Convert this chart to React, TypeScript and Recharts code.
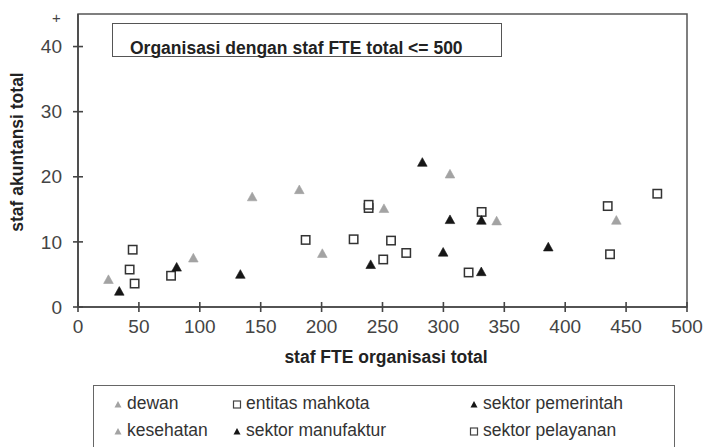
import { ReferenceArea, Scatter, ScatterChart, XAxis, YAxis } from "recharts";

const FONT = '"Liberation Sans", Arial, sans-serif';

const xTicks = [0, 50, 100, 150, 200, 250, 300, 350, 400, 450, 500];
const yTicks = [0, 10, 20, 30, 40];

// gray triangles
const dewan = [
  { x: 25, y: 4.2 },
  { x: 143, y: 16.9 },
  { x: 200.6, y: 8.2 },
  { x: 305.4, y: 20.4 },
  { x: 442, y: 13.3 },
];
const kesehatan = [
  { x: 94.7, y: 7.5 },
  { x: 181.7, y: 18 },
  { x: 251.2, y: 15.1 },
  { x: 343.7, y: 13.2 },
];

// open squares
const entitasMahkota = [
  { x: 44.9, y: 8.8 },
  { x: 46.5, y: 3.6 },
  { x: 186.9, y: 10.3 },
  { x: 238.6, y: 15.2 },
  { x: 250.6, y: 7.3 },
  { x: 269.5, y: 8.3 },
  { x: 331.4, y: 14.6 },
  { x: 436.8, y: 8.1 },
];
const sektorPelayanan = [
  { x: 42.4, y: 5.75 },
  { x: 76.4, y: 4.8 },
  { x: 226.3, y: 10.4 },
  { x: 238.6, y: 15.7 },
  { x: 257, y: 10.2 },
  { x: 320.7, y: 5.3 },
  { x: 434.9, y: 15.5 },
  { x: 475.6, y: 17.4 },
];

// black triangles
const sektorPemerintah = [
  { x: 33.9, y: 2.4 },
  { x: 133.3, y: 5.0 },
  { x: 282.7, y: 22.2 },
  { x: 305.4, y: 13.4 },
  { x: 331.1, y: 5.4 },
];
const sektorManufaktur = [
  { x: 81, y: 6.1 },
  { x: 240.3, y: 6.5 },
  { x: 299.8, y: 8.4 },
  { x: 331.2, y: 13.3 },
  { x: 386.1, y: 9.2 },
];

const GRAY = "#a3a3a3";
const BLACK = "#161616";
const AXIS = "#444";

function Tri({ cx, cy, fill, r = 4.8 }: any) {
  return (
    <polygon
      points={`${cx},${cy - r} ${cx + r},${cy + r * 0.8} ${cx - r},${cy + r * 0.8}`}
      fill={fill}
      stroke={fill}
      strokeWidth={0.6}
    />
  );
}

function Sq({ cx, cy, s = 4.2 }: any) {
  return <rect x={cx - s} y={cy - s} width={s * 2} height={s * 2} fill="#fff" stroke="#333" strokeWidth={1.5} />;
}

const grayShape = (p: any) => <Tri cx={p.cx} cy={p.cy} fill={GRAY} />;
const blackShape = (p: any) => <Tri cx={p.cx} cy={p.cy} fill={BLACK} />;
const squareShape = (p: any) => <Sq cx={p.cx} cy={p.cy} />;

// tickSize 0 + tickMargin => axis sits at a known offset from the label anchor,
// so each tick draws a short cross mark through the axis plus its label
function XTick(props: any) {
  const { x, y, payload } = props;
  const axisY = y - 19;
  return (
    <g>
      <line x1={x} y1={axisY - 5} x2={x} y2={axisY + 5} stroke={AXIS} strokeWidth={1.6} />
      <text x={x} y={y} dy="0.35em" textAnchor="middle" fontSize={19} fill="#444" fontFamily={FONT}>
        {payload.value}
      </text>
    </g>
  );
}

function YTick(props: any) {
  const { x, y, payload } = props;
  const axisX = x + 16;
  return (
    <g>
      <line x1={axisX - 5} y1={y} x2={axisX + 5} y2={y} stroke={AXIS} strokeWidth={1.6} />
      <text x={x} y={y} dy="0.35em" textAnchor="end" fontSize={19} fill="#444" fontFamily={FONT}>
        {payload.value}
      </text>
    </g>
  );
}

function LegendMark({ kind }: { kind: "gray" | "black" | "square" }) {
  return (
    <svg width={10} height={10} style={{ position: "absolute", left: -14, top: 7 }}>
      {kind === "square" ? (
        <rect x={1.5} y={2} width={7} height={7} fill="#fff" stroke="#444" strokeWidth={1.2} />
      ) : (
        <polygon points="5,2 8.5,8.5 1.5,8.5" fill={kind === "gray" ? GRAY : BLACK} />
      )}
    </svg>
  );
}

const legendItems: { label: string; kind: "gray" | "black" | "square"; left: number; top: number }[] = [
  { label: "dewan", kind: "gray", left: 127, top: 392 },
  { label: "entitas mahkota", kind: "square", left: 246, top: 392 },
  { label: "sektor pemerintah", kind: "black", left: 483, top: 392 },
  { label: "kesehatan", kind: "gray", left: 127, top: 419 },
  { label: "sektor manufaktur", kind: "black", left: 246, top: 419 },
  { label: "sektor pelayanan", kind: "square", left: 483, top: 419 },
];

export default function App() {
  return (
    <div style={{ position: "absolute", left: 0, top: 0, width: 704, height: 447, background: "#fff", fontFamily: FONT, overflow: "hidden" }}>
      <ScatterChart width={704} height={447} margin={{ top: 14, right: 17, bottom: 110, left: 18 }}>
        <ReferenceArea x1={0} x2={500} y1={0} y2={45} fill="none" stroke="#555" strokeWidth={1.5} fillOpacity={0} />
        <XAxis
          type="number"
          dataKey="x"
          domain={[0, 500]}
          ticks={xTicks}
          height={30}
          axisLine={{ stroke: AXIS, strokeWidth: 1.6 }}
          tickLine={false}
          tickSize={0}
          tickMargin={19}
          tick={XTick}
          allowDataOverflow
        />
        <YAxis
          type="number"
          dataKey="y"
          domain={[0, 45]}
          ticks={yTicks}
          width={60}
          axisLine={{ stroke: AXIS, strokeWidth: 1.6 }}
          tickLine={false}
          tickSize={0}
          tickMargin={16}
          tick={YTick}
          allowDataOverflow
        />
        <Scatter name="dewan" data={dewan} shape={grayShape} isAnimationActive={false} />
        <Scatter name="kesehatan" data={kesehatan} shape={grayShape} isAnimationActive={false} />
        <Scatter name="entitas mahkota" data={entitasMahkota} shape={squareShape} isAnimationActive={false} />
        <Scatter name="sektor pelayanan" data={sektorPelayanan} shape={squareShape} isAnimationActive={false} />
        <Scatter name="sektor pemerintah" data={sektorPemerintah} shape={blackShape} isAnimationActive={false} />
        <Scatter name="sektor manufaktur" data={sektorManufaktur} shape={blackShape} isAnimationActive={false} />
      </ScatterChart>

      {/* title box inside the plot */}
      <div style={{ position: "absolute", left: 112, top: 23, width: 390, height: 34, border: "1.5px solid #555", boxSizing: "border-box" }} />
      <div style={{ position: "absolute", left: 130, top: 38, fontSize: 17.5, fontWeight: "bold", color: "#222", lineHeight: "20px", whiteSpace: "nowrap" }}>
        Organisasi dengan staf FTE total &lt;= 500
      </div>

      <div style={{ position: "absolute", left: 52, top: 10, fontSize: 15, color: "#444", lineHeight: "16px" }}>+</div>

      {/* axis titles */}
      <div style={{ position: "absolute", left: 17, top: 152, transform: "translate(-50%, -50%) rotate(-90deg)", fontSize: 17.5, fontWeight: "bold", color: "#222", whiteSpace: "nowrap" }}>
        staf akuntansi total
      </div>
      <div style={{ position: "absolute", left: 386, top: 357, transform: "translate(-50%, -50%)", fontSize: 17.5, fontWeight: "bold", color: "#222", whiteSpace: "nowrap" }}>
        staf FTE organisasi total
      </div>

      {/* legend */}
      <div style={{ position: "absolute", left: 93, top: 385, width: 582, height: 80, border: "1.5px solid #666", boxSizing: "border-box" }} />
      {legendItems.map((it) => (
        <div key={it.label} style={{ position: "absolute", left: it.left, top: it.top, fontSize: 17.5, color: "#333", lineHeight: "22px", whiteSpace: "nowrap" }}>
          <LegendMark kind={it.kind} />
          {it.label}
        </div>
      ))}
    </div>
  );
}
